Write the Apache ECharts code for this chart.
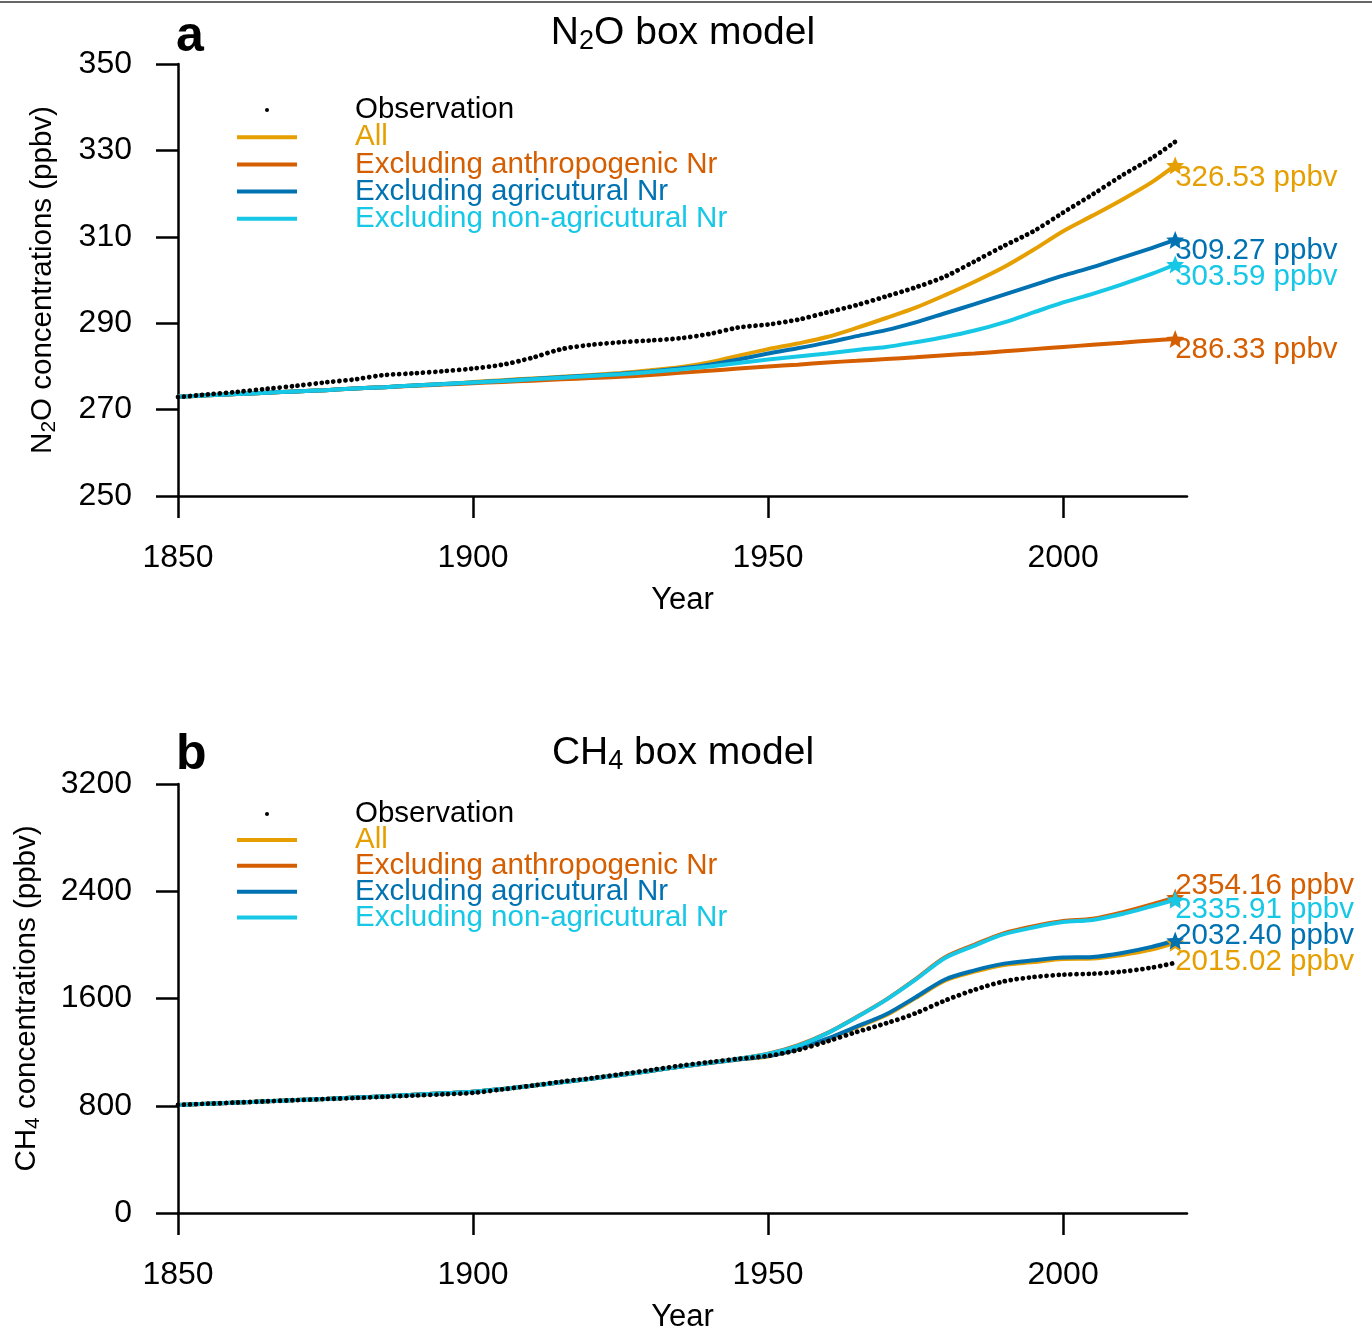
<!DOCTYPE html>
<html>
<head>
<meta charset="utf-8">
<script src="https://cdn.jsdelivr.net/npm/echarts@6/dist/echarts.min.js"></script>
<style>
html,body{margin:0;padding:0;background:#fff;}
#c{width:1372px;height:1334px;}
</style>
</head>
<body>
<div id="c"></div>
<script>
// ---------- data ----------
var years = [1850,1855,1860,1865,1870,1875,1880,1885,1890,1895,1900,1905,1910,1915,1920,1925,1930,1935,1940,1945,1950,1955,1960,1965,1970,1975,1980,1985,1990,1995,2000,2005,2010,2015,2019];

// N2O (ppbv)
var n2oObs     = [272.9,273.5,274.1,274.8,275.5,276.3,277.0,278.0,278.4,278.9,279.5,280.4,282.0,284.0,285.0,285.6,286.0,286.5,287.5,289.0,289.7,290.8,292.5,294.2,296.2,298.3,300.8,304.3,307.9,311.3,315.6,319.8,324.2,328.2,332.0];
var n2oAll     = [273.0,273.3,273.6,273.9,274.2,274.5,274.9,275.2,275.6,275.9,276.4,276.8,277.2,277.6,278.0,278.5,279.1,279.8,280.9,282.5,284.0,285.3,286.8,288.9,291.2,293.6,296.5,299.6,303.0,307.0,311.3,314.9,318.6,322.6,326.53];
var n2oExAnth  = [273.0,273.3,273.6,273.9,274.2,274.5,274.9,275.2,275.5,275.8,276.1,276.4,276.7,277.0,277.3,277.6,278.0,278.5,279.0,279.5,280.0,280.4,280.9,281.3,281.7,282.1,282.6,283.0,283.5,284.0,284.5,285.0,285.5,286.0,286.33];
var n2oExAgri  = [273.0,273.3,273.6,273.9,274.2,274.5,274.9,275.2,275.6,275.9,276.3,276.7,277.1,277.5,277.9,278.3,278.8,279.5,280.4,281.6,283.0,284.2,285.5,287.0,288.4,290.2,292.3,294.4,296.6,298.8,301.0,303.0,305.2,307.4,309.27];
var n2oExNonAg = [273.0,273.3,273.6,273.9,274.2,274.5,274.9,275.2,275.6,275.9,276.3,276.6,277.0,277.4,277.8,278.2,278.7,279.3,280.0,280.8,281.6,282.3,283.0,283.8,284.5,285.6,286.8,288.3,290.2,292.5,294.8,296.8,299.0,301.4,303.59];

// CH4 (ppbv)
var ch4Obs     = [806,815,824,833,842,850,858,867,876,886,896,922,950,980,1005,1035,1065,1098,1125,1150,1172,1215,1280,1350,1415,1490,1585,1665,1728,1760,1778,1785,1800,1830,1866];
var ch4All     = [806,815,824,833,842,851,861,871,882,893,905,925,950,975,1002,1030,1060,1090,1118,1145,1168,1222,1295,1385,1475,1603,1733,1800,1850,1872,1895,1898,1925,1965,2015.02];
var ch4ExAnth  = [806,815,824,833,842,851,861,871,882,893,905,925,950,975,1002,1030,1060,1090,1120,1150,1188,1250,1342,1462,1592,1745,1908,2002,2088,2140,2178,2195,2242,2302,2354.16];
var ch4ExAgri  = [806,815,824,833,842,851,861,871,882,893,905,925,950,975,1002,1030,1060,1090,1118,1145,1170,1225,1300,1390,1482,1610,1742,1810,1860,1885,1905,1910,1940,1985,2032.40];
var ch4ExNonAg = [806,815,824,833,842,851,861,871,882,893,905,925,950,975,1002,1030,1060,1090,1120,1150,1186,1246,1340,1460,1590,1740,1902,1995,2080,2130,2170,2186,2230,2288,2335.91];

var seriesNames = ['Observation','All','Excluding anthropogenic Nr','Excluding agricutural Nr','Excluding non-agricutural Nr'];
var xTicks = [1850,1900,1950,2000];
var n2oTicks = [250,270,290,310,330,350];
var ch4Ticks = [0,800,1600,2400,3200];

// ---------- style ----------
var FONT = "'Liberation Sans', Arial, Helvetica, sans-serif";
var colors = {
  'Observation':'#000000',
  'All':'#E69F00',
  'Excluding anthropogenic Nr':'#D55E00',
  'Excluding agricutural Nr':'#0072B2',
  'Excluding non-agricutural Nr':'#16C8E6'
};
var STAR = 'path://M0,-10 L2.6,-3.6 9.5,-3.1 4.2,1.4 5.9,8.1 0,4.4 -5.9,8.1 -4.2,1.4 -9.5,-3.1 -2.6,-3.6Z';

function pairs(vals, name, labelOffset){
  var out = [];
  for (var i=0;i<years.length;i++){
    out.push([years[i], vals[i]]);
  }
  if (labelOffset){
    var last = out.length-1;
    var v = vals[last];
    out[last] = {
      value: out[last],
      symbol: STAR, symbolSize: 18,
      itemStyle:{color: colors[name]},
      label:{
        show:true, position:'right', distance:-9, offset:[0,labelOffset],
        formatter: v.toFixed(2)+' ppbv',
        color: colors[name], fontSize: 29.5, fontFamily: FONT
      }
    };
  }
  return out;
}

function modelSeries(name, vals, gi, off){
  return {
    type:'line', name:name, xAxisIndex:gi, yAxisIndex:gi,
    data: pairs(vals, name, off),
    symbol:'none', showSymbol:true, showAllSymbol:true, smooth:0.3,
    lineStyle:{color:colors[name], width:4},
    itemStyle:{color:colors[name]},
    emphasis:{disabled:true}, silent:true, z:3
  };
}
function obsSeries(vals, gi){
  return {
    type:'line', name:'Observation', xAxisIndex:gi, yAxisIndex:gi,
    data: pairs(vals,'Observation',null),
    symbol:'none', smooth:0.3,
    lineStyle:{color:'#000', width:4.8, type:[0.01,6], cap:'round'},
    itemStyle:{color:'#000'},
    emphasis:{disabled:true}, silent:true, z:5
  };
}
function plain(v){ return String(v); }

function xAxisDef(gi){
  return {
    type:'value', gridIndex:gi, min:1850, max:2021,
    name:'Year', nameLocation:'middle', nameGap:89,
    nameTextStyle:{fontSize:31, color:'#000', fontFamily:FONT},
    axisLine:{show:true, lineStyle:{color:'#000', width:2.5}},
    axisTick:{show:true, length:22, lineStyle:{color:'#000', width:2.5}, customValues:xTicks},
    axisLabel:{fontSize:32, color:'#000', margin:46, fontFamily:FONT, customValues:xTicks, formatter:plain},
    splitLine:{show:false}
  };
}
function yAxisDef(gi, min, max, interval, ticks, name, gap){
  return {
    type:'value', gridIndex:gi, min:min, max:max, interval:interval,
    name:name, nameLocation:'middle', nameGap:gap, nameRotate:90,
    nameTextStyle:{fontSize:29.5, color:'#000', fontFamily:FONT,
      rich:{n:{fontSize:29.5, fontFamily:FONT, color:'#000', lineHeight:34},
            s:{fontSize:21, fontFamily:FONT, color:'#000', verticalAlign:'bottom', lineHeight:10}}},
    axisLine:{show:true, lineStyle:{color:'#000', width:2.5}},
    axisTick:{show:true, length:22, lineStyle:{color:'#000', width:2.5}},
    axisLabel:{fontSize:32, color:'#000', margin:46, fontFamily:FONT, formatter:plain},
    splitLine:{show:false}
  };
}
function legendDef(top, gap){
  return {
    orient:'vertical', left:232, top:top, itemWidth:60, itemHeight:4, itemGap:gap,
    selectedMode:false,
    textStyle:{fontSize:29.5, fontFamily:FONT, padding:[0,0,0,53]},
    data: seriesNames.map(function(n){
      return {name:n, icon: n==='Observation' ? 'circle' : 'rect',
        itemStyle:{color:colors[n]}, textStyle:{color:colors[n]}};
    })
  };
}
function titleText(x,y,prefix,sub,suffix){
  return {type:'text', x:x, y:y, style:{
    text:'{n|'+prefix+'}{s|'+sub+'}{n|'+suffix+'}',
    rich:{n:{fontSize:39, fontFamily:FONT, fill:'#000', lineHeight:44},
          s:{fontSize:27, fontFamily:FONT, fill:'#000', verticalAlign:'bottom', lineHeight:14}},
    align:'center', verticalAlign:'middle'
  }};
}

var option = {
  animation:false,
  backgroundColor:'#fff',
  grid:[
    {left:178, top:64, width:1009, height:432},
    {left:178, top:784, width:1009, height:432}
  ],
  xAxis:[xAxisDef(0), xAxisDef(1)],
  yAxis:[
    yAxisDef(0,250,350,20,n2oTicks,'{n|N}{s|2}{n|O concentrations (ppbv)}',118),
    yAxisDef(1,0,3200,800,ch4Ticks,'{n|CH}{s|4}{n| concentrations (ppbv)}',134)
  ],
  legend:[legendDef(90, -2.8), legendDef(794, -4.1)],
  series:[
    modelSeries('All', n2oAll, 0, 12),
    modelSeries('Excluding anthropogenic Nr', n2oExAnth, 0, 11),
    modelSeries('Excluding agricutural Nr', n2oExAgri, 0, 11),
    modelSeries('Excluding non-agricutural Nr', n2oExNonAg, 0, 12),
    obsSeries(n2oObs, 0),
    modelSeries('All', ch4All, 1, 19),
    modelSeries('Excluding anthropogenic Nr', ch4ExAnth, 1, -12),
    modelSeries('Excluding agricutural Nr', ch4ExAgri, 1, -5),
    modelSeries('Excluding non-agricutural Nr', ch4ExNonAg, 1, 10),
    obsSeries(ch4Obs, 1)
  ],
  graphic:[
    {type:'line', shape:{x1:0,y1:2,x2:1372,y2:2}, style:{stroke:'#333', lineWidth:1.5}},
    {type:'text', x:176, y:37, style:{text:'a', fontSize:50, fontWeight:'bold', fontFamily:FONT, fill:'#000', align:'left', verticalAlign:'middle'}},
    {type:'text', x:176, y:755, style:{text:'b', fontSize:50, fontWeight:'bold', fontFamily:FONT, fill:'#000', align:'left', verticalAlign:'middle'}},
    titleText(683, 33, 'N', '2', 'O box model'),
    titleText(683, 753, 'CH', '4', ' box model')
  ]
};
var chart = echarts.init(document.getElementById('c'));
chart.setOption(option);
</script>
</body>
</html>
